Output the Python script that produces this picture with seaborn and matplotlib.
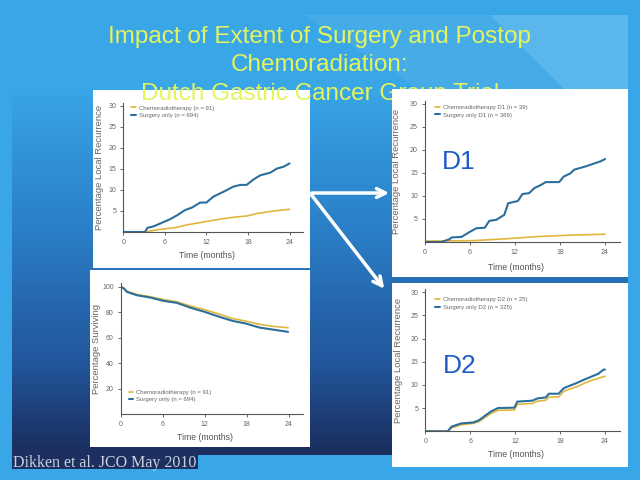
import numpy as np
import matplotlib.pyplot as plt
import seaborn as sns
from matplotlib.patches import Rectangle, Polygon
from matplotlib.colors import LinearSegmentedColormap

sns.set_theme(style="ticks")
plt.rcParams['font.family'] = ['Liberation Sans', 'DejaVu Sans']

GOLD = '#e2b63c'
BLUE = '#2c6e9c'

# local recurrence, all patients
t_all_surg = [0, 3.1, 3.5, 4.3, 5.3, 6.7, 7.8, 8.9, 9.9, 11.1, 12, 13, 14.5, 15.9, 16.9, 17.8, 18.8, 19.8, 21.2, 22.2, 23.1, 24]
lr_all_surg = [0, 0, 1.0, 1.3, 2.0, 3.0, 4.0, 5.2, 5.8, 7.0, 7.0, 8.4, 9.6, 10.8, 11.2, 11.2, 12.5, 13.5, 14.1, 15.1, 15.5, 16.3]
t_all_crt = [0, 3.0, 4.8, 7.7, 9.2, 12, 14.5, 16.4, 17.8, 19.3, 21.7, 24]
lr_all_crt = [0, 0, 0.5, 1.1, 1.7, 2.5, 3.2, 3.6, 3.8, 4.4, 5.0, 5.4]

# overall survival
t_os = [0, 0.4, 0.9, 2.3, 4.2, 6.1, 8, 9.9, 12, 14.1, 16, 17.9, 19.8, 21.7, 23.9]
os_surg = [100, 99, 96, 93.4, 91.6, 89, 87.4, 83.7, 80.3, 76.4, 73.2, 71.1, 68, 66.4, 64.6]
os_crt = [100, 99.2, 96.5, 94, 92.3, 90, 88.3, 85, 82, 78.5, 75, 73, 70.5, 69, 67.8]

# D1 dissection
t_d1_surg = [0, 2.2, 3.3, 3.6, 4.9, 6.0, 6.9, 8.0, 8.6, 9.5, 10.6, 11.1, 12.4, 13.0, 13.9, 14.6, 15.5, 16.1, 17.9, 18.5, 19.4, 19.9, 21.4, 22.3, 23.4, 24]
lr_d1_surg = [0, 0, 0.6, 1.0, 1.1, 2.2, 3.0, 3.1, 4.6, 4.8, 5.9, 8.4, 8.9, 10.4, 10.6, 11.7, 12.4, 13.0, 13.0, 14.2, 14.9, 15.7, 16.4, 16.9, 17.5, 18.0]
t_d1_crt = [0, 6.4, 10.8, 15.2, 19.6, 24]
lr_d1_crt = [0.2, 0.3, 0.7, 1.2, 1.5, 1.7]

# D2 dissection
t_d2 = [0, 3.0, 3.5, 4.8, 6.4, 7.2, 8.1, 8.8, 9.7, 11.9, 12.3, 14.3, 15.0, 16.1, 16.5, 17.8, 18.5, 19.1, 20.2, 21.3, 22.2, 23.1, 23.8, 24]
lr_d2_surg = [0, 0, 1.0, 1.7, 1.9, 2.4, 3.5, 4.3, 5.0, 5.1, 6.4, 6.6, 7.1, 7.3, 8.1, 8.1, 9.3, 9.7, 10.4, 11.2, 11.8, 12.4, 13.3, 13.3]
lr_d2_crt = [0, 0, 0.7, 1.4, 1.7, 2.1, 3.1, 3.9, 4.5, 4.6, 5.8, 6.0, 6.5, 6.7, 7.4, 7.4, 8.6, 9.0, 9.6, 10.4, 11.0, 11.4, 11.8, 11.8]

xticks = [0, 6, 12, 18, 24]
lr_ticks = [5, 10, 15, 20, 25, 30]
os_ticks = [20, 40, 60, 80, 100]

fig = plt.figure(figsize=(6.4, 4.8), dpi=100)
fig.patch.set_facecolor('#38a6e7')

# slide background drawn in pixel coordinates
bg = fig.add_axes([0, 0, 1, 1], zorder=-1)
bg.set_xlim(0, 640)
bg.set_ylim(480, 0)
bg.axis('off')
cmap = LinearSegmentedColormap.from_list('slide', [(0, '#37a3e5'), (0.4, '#2a7cc4'), (0.75, '#22559a'), (1, '#1a2d5c')])
grad = np.linspace(0, 1, 256).reshape(-1, 1)
bg.imshow(grad, cmap=cmap, extent=(12, 628, 455, 95), aspect='auto', zorder=0)
# lighter diagonal bands behind the title
bg.add_patch(Polygon([(304, 15), (490, 15), (575, 100), (436, 100)], closed=True,
                     facecolor='white', alpha=0.07, lw=0, zorder=1))
bg.add_patch(Polygon([(490, 15), (628, 15), (628, 100), (575, 100)], closed=True,
                     facecolor='white', alpha=0.18, lw=0, zorder=1))
bg.add_patch(Rectangle((12, 449), 186, 20, facecolor='#1c2f5e', lw=0, zorder=1))

# white panels; the title's last line runs over the left one, under the right one
bg.add_patch(Rectangle((93, 90), 217, 178, facecolor='white', lw=0, zorder=2))
bg.add_patch(Rectangle((90, 270), 220, 177, facecolor='white', lw=0, zorder=2))
bg.add_patch(Rectangle((392, 89), 236, 188, facecolor='white', lw=0, zorder=5))
bg.add_patch(Rectangle((392, 283), 236, 184, facecolor='white', lw=0, zorder=5))

title_kw = dict(ha='center', va='baseline', color='#e6f45c', fontsize=17.5, zorder=3)
bg.text(320, 43.5, 'Impact of Extent of Surgery and Postop', **title_kw)
bg.text(320, 71, 'Chemoradiation:', **title_kw)
bg.text(320, 100, 'Dutch Gastric Cancer Group Trial', **title_kw)

bg.annotate('', xy=(392, 193), xytext=(309, 193),
            arrowprops=dict(arrowstyle='->', color='white', lw=2.5, mutation_scale=16), zorder=4)
bg.annotate('', xy=(386, 291), xytext=(310, 193),
            arrowprops=dict(arrowstyle='->', color='white', lw=2.5, mutation_scale=16), zorder=4)

bg.text(13, 467, 'Dikken et al. JCO May 2010', ha='left', va='baseline', color='#c8d0e2',
        fontsize=11.5, family=['Liberation Serif', 'DejaVu Serif'], zorder=5)


def panel(rect, t1, y1, t2, y2, labels, ylim, yticks, ylabel, leg_loc, leg_anchor, ylab_x, xlab_xy):
    ax = fig.add_axes(rect)
    ax.patch.set_alpha(0)
    sns.lineplot(x=t1, y=y1, ax=ax, color=GOLD, lw=1.2, label=labels[0], estimator=None, sort=False)
    sns.lineplot(x=t2, y=y2, ax=ax, color=BLUE, lw=1.5, label=labels[1], estimator=None, sort=False)
    ax.set_xlim(0, 26)
    ax.set_ylim(*ylim)
    ax.set_xticks(xticks)
    ax.set_yticks(yticks)
    sns.despine(ax=ax)
    for s in ['left', 'bottom']:
        ax.spines[s].set_color('#555555')
        ax.spines[s].set_linewidth(0.8)
    ax.tick_params(labelsize=5, colors='#666666', length=2.5, width=0.7, pad=2.5)
    ax.set_ylabel(ylabel, fontsize=6.8, color='#666666')
    ax.set_xlabel('Time (months)', fontsize=6.3, color='#555555')
    ax.yaxis.set_label_coords(ylab_x, 0.5)
    ax.xaxis.set_label_coords(*xlab_xy)
    leg = ax.legend(loc=leg_loc, bbox_to_anchor=leg_anchor, frameon=False, fontsize=4.3,
                    handlelength=0.8, handletextpad=0.5, labelspacing=0.4, borderaxespad=0)
    for txt in leg.get_texts():
        txt.set_color('#666666')
    return ax


panel([0.1927, 0.5167, 0.2813, 0.2688], t_all_crt, lr_all_crt, t_all_surg, lr_all_surg,
      ['Chemoradiotherapy (n = 91)', 'Surgery only (n = 694)'], (0, 30.7), lr_ticks,
      'Percentage Local Recurrence', 'upper left', (0.03, 1.0), -0.11, (0.463, -0.145))

panel([0.1886, 0.1375, 0.2844, 0.2729], t_os, os_crt, t_os, os_surg,
      ['Chemoradiotherapy (n = 91)', 'Surgery only (n = 694)'], (0, 103), os_ticks,
      'Percentage Surviving', 'lower left', (0.03, 0.07), -0.111, (0.463, -0.143))

ax_d1 = panel([0.6636, 0.4958, 0.3052, 0.2938], t_d1_crt, lr_d1_crt, t_d1_surg, lr_d1_surg,
              ['Chemoradiotherapy D1 (n = 39)', 'Surgery only D1 (n = 369)'], (0, 30.6), lr_ticks,
              'Percentage Local Recurrence', 'upper left', (0.04, 0.99), -0.119, (0.467, -0.151))
ax_d1.text(4.5, 17.4, 'D1', fontsize=19, color='#1f5cc8', ha='center', va='center')

ax_d2 = panel([0.6645, 0.1015, 0.3042, 0.2965], t_d2, lr_d2_crt, t_d2, lr_d2_surg,
              ['Chemoradiotherapy D2 (n = 25)', 'Surgery only D2 (n = 325)'], (0, 30.7), lr_ticks,
              'Percentage Local Recurrence', 'upper left', (0.04, 0.96), -0.112, (0.466, -0.131))
ax_d2.text(4.6, 14.1, 'D2', fontsize=19, color='#1f5cc8', ha='center', va='center')

fig.savefig('out.png', dpi=100)
